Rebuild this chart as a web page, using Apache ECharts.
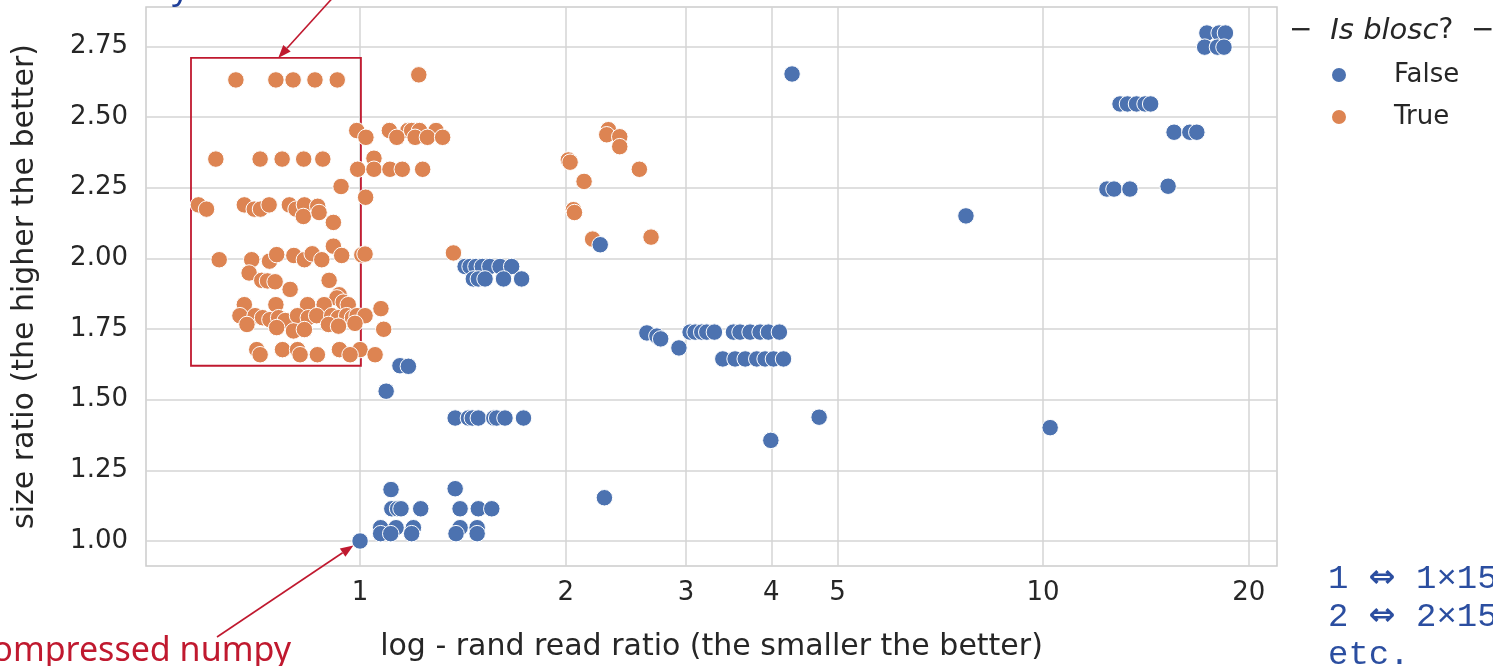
<!DOCTYPE html>
<html><head><meta charset="utf-8">
<script src="https://cdn.jsdelivr.net/npm/echarts@6/dist/echarts.min.js"></script>
<style>html,body{margin:0;padding:0;background:#fff}#c{width:1493px;height:666px}</style>
</head><body><div id="c"></div>
<script>
// ---------- data ----------
const seriesNames = ['False', 'True'];
const xTicks = [1, 2, 3, 4, 5, 10, 20];
const yTicks = [1.00, 1.25, 1.50, 1.75, 2.00, 2.25, 2.50, 2.75];
const xRange = [0.486, 22.0];
const yRange = [0.9116, 2.889];
const xTitle = 'log - rand read ratio (the smaller the better)';
const yTitle = 'size ratio (the higher the better)';
const legendTitle = 'Is blosc';

// blosc = False  [read ratio, size ratio]
const falsePoints = [
 [1.0,1.0],
 [1.144,1.620],[1.177,1.618],[1.092,1.530],
 [1.425,1.971],[1.449,1.971],[1.478,1.971],[1.51,1.971],[1.549,1.971],[1.603,1.971],[1.667,1.971],
 [1.465,1.927],[1.490,1.927],[1.524,1.927],[1.622,1.927],[1.724,1.927],
 [1.378,1.435],[1.441,1.435],[1.46,1.435],[1.490,1.435],[1.57,1.435],[1.585,1.435],[1.630,1.435],[1.735,1.435],
 [1.110,1.182],[1.378,1.185],
 [1.113,1.114],[1.135,1.114],[1.148,1.114],[1.227,1.114],[1.401,1.114],[1.490,1.114],[1.559,1.114],
 [1.072,1.047],[1.129,1.047],[1.197,1.047],[1.401,1.047],[1.484,1.047],
 [1.072,1.026],[1.109,1.026],[1.190,1.026],[1.382,1.026],[1.484,1.026],
 [2.279,1.153],[2.247,2.048],
 [2.63,1.736],[2.72,1.725],[2.755,1.715],[2.93,1.683],
 [3.042,1.739],[3.094,1.739],[3.164,1.739],[3.218,1.739],[3.302,1.739],[3.521,1.739],[3.6,1.739],[3.724,1.739],[3.852,1.739],[3.962,1.739],[4.111,1.739],
 [3.397,1.644],[3.54,1.644],[3.663,1.644],[3.809,1.644],[3.917,1.644],[4.029,1.644],[4.168,1.644],
 [4.70,1.438],[3.994,1.356],[4.29,2.652],[7.71,2.150],[10.24,1.401],
 [17.37,2.797],[18.1,2.797],[18.49,2.797],[17.24,2.747],[18.0,2.747],[18.4,2.747],
 [12.96,2.546],[13.29,2.546],[13.7,2.546],[14.10,2.546],[14.37,2.546],
 [15.55,2.446],[16.4,2.446],[16.79,2.446],
 [12.4,2.245],[12.70,2.245],[13.40,2.245],[15.24,2.255]
];

// blosc = True
const truePoints = [
 [0.658,2.631],[0.753,2.631],[0.798,2.631],[0.859,2.631],[0.926,2.631],[1.219,2.649],
 [0.989,2.452],[1.104,2.452],[1.175,2.452],[1.19,2.452],[1.222,2.452],[1.292,2.452],
 [1.020,2.428],[1.132,2.428],[1.204,2.428],[1.255,2.428],[1.321,2.428],
 [0.615,2.351],[0.714,2.351],[0.769,2.351],[0.827,2.351],[0.882,2.351],[1.048,2.354],
 [0.992,2.315],[1.048,2.315],[1.106,2.315],[1.153,2.315],[1.235,2.315],
 [0.938,2.254],[1.019,2.216],
 [0.580,2.189],[0.596,2.174],[0.677,2.189],[0.700,2.174],[0.715,2.174],[0.736,2.189],[0.788,2.189],[0.806,2.174],[0.829,2.189],[0.826,2.148],[0.867,2.184],[0.871,2.162],[0.914,2.127],
 [0.622,1.995],[0.694,1.995],[0.737,1.990],[0.755,2.013],[0.800,2.010],[0.829,1.995],[0.851,2.016],[0.879,1.995],[0.914,2.043],[0.940,2.010],[1.006,2.012],[1.017,2.015],[1.370,2.019],
 [0.688,1.948],[0.718,1.922],[0.732,1.920],[0.751,1.917],[0.790,1.890],[0.901,1.922],[0.932,1.871],[0.925,1.860],
 [0.677,1.836],[0.753,1.836],[0.838,1.836],[0.886,1.836],[0.945,1.845],[0.961,1.836],
 [0.667,1.797],[0.702,1.797],[0.720,1.790],[0.738,1.783],[0.760,1.790],[0.777,1.780],[0.810,1.797],[0.840,1.790],[0.864,1.797],[0.909,1.797],[0.930,1.790],[0.956,1.797],[0.975,1.790],[0.990,1.797],[1.017,1.797],[1.073,1.822],
 [0.683,1.766],[0.755,1.755],[0.799,1.743],[0.829,1.748],[0.899,1.766],[0.930,1.760],[0.983,1.770],[1.083,1.749],
 [0.706,1.677],[0.770,1.677],[0.810,1.677],[0.933,1.677],[1.000,1.677],
 [0.714,1.659],[0.817,1.659],[0.866,1.659],[0.967,1.659],[1.052,1.659],
 [2.018,2.348],[2.03,2.340],[2.128,2.272],[2.31,2.455],[2.297,2.437],[2.40,2.430],[2.40,2.395],[2.564,2.315],[2.053,2.172],[2.06,2.162],[2.19,2.068],[2.667,2.075]
];

// annotation anchors (data coords)
const boxCorners = [[0.5656, 2.709], [1.003, 1.620]];
const boxArrowTarget = [0.759, 2.709];
const numpyPoint = [1.0, 1.0];
const noteRows = [['1', '1\u00D715'], ['2', '2\u00D715']];
const noteTail = 'etc.';

// ---------- chart ----------
const L = v => Math.log10(v);
const toXY = pts => pts.map(p => [L(p[0]), p[1]]);
const RED = '#c0192f';
const TXT = '#262626';
const FONT = 'DejaVu Sans';
const MONO = '"Liberation Mono", "DejaVu Sans Mono", monospace';

const chart = echarts.init(document.getElementById('c'), null, {renderer: 'canvas'});
const option = {
  animation: false,
  backgroundColor: '#fff',
  grid: {left: 146, right: 216, top: 7, bottom: 100, show: true, borderColor: '#cccccc', borderWidth: 1.5,
         containLabel: false, outerBoundsMode: 'none'},
  xAxis: {
    type: 'value', min: L(xRange[0]), max: L(xRange[1]),
    name: xTitle, nameLocation: 'middle', nameGap: 66,
    nameTextStyle: {fontFamily: FONT, fontSize: 30, color: TXT},
    axisLine: {show: false}, axisTick: {show: false, customValues: xTicks.map(L)},
    axisLabel: {customValues: xTicks.map(L), formatter: v => String(Math.round(Math.pow(10, v))), fontFamily: FONT, fontSize: 26, color: TXT, margin: 14},
    splitLine: {show: true, lineStyle: {color: '#d5d5d5', width: 1.5}}
  },
  yAxis: {
    type: 'value', min: yRange[0], max: yRange[1],
    name: yTitle, nameLocation: 'middle', nameGap: 106, nameRotate: 90,
    nameTextStyle: {fontFamily: FONT, fontSize: 30, color: TXT},
    axisLine: {show: false}, axisTick: {show: false, customValues: yTicks},
    axisLabel: {customValues: yTicks, formatter: v => v.toFixed(2), fontFamily: FONT, fontSize: 26, color: TXT, margin: 18},
    splitLine: {show: true, lineStyle: {color: '#d5d5d5', width: 1.5}}
  },
  legend: {
    data: seriesNames, orient: 'vertical', left: 1330, top: 62, itemGap: 16,
    itemWidth: 16, itemHeight: 16, icon: 'circle', padding: 0,
    textStyle: {fontFamily: FONT, fontSize: 26, color: TXT, padding: [0, 0, 0, 42]}
  },
  series: [
    {name: 'True', type: 'scatter', data: toXY(truePoints), symbolSize: 16.5, z: 2,
     itemStyle: {color: '#dd8452', borderColor: '#fff', borderWidth: 1, opacity: 1},
     markArea: {silent: true, itemStyle: {color: 'rgba(0,0,0,0)', borderColor: RED, borderWidth: 1.8},
       label: {show: false},
       data: [[{coord: [L(boxCorners[0][0]), boxCorners[0][1]]}, {coord: [L(boxCorners[1][0]), boxCorners[1][1]]}]]}},
    {name: 'False', type: 'scatter', data: toXY(falsePoints), symbolSize: 16.5, z: 3,
     itemStyle: {color: '#4c72b0', borderColor: '#fff', borderWidth: 1, opacity: 1}}
  ]
};
chart.setOption(option);

function arrow(x1, y1, x2, y2) {
  const dx = x2 - x1, dy = y2 - y1, len = Math.hypot(dx, dy);
  const ux = dx / len, uy = dy / len, h = 13, w = 5;
  const bx = x2 - ux * h, by = y2 - uy * h;
  return [
    {type: 'line', shape: {x1, y1, x2: bx, y2: by}, style: {stroke: RED, lineWidth: 1.6}, z: 100},
    {type: 'polygon', shape: {points: [[x2, y2], [bx - uy * w, by + ux * w], [bx + uy * w, by - ux * w]]}, style: {fill: RED}, z: 100}
  ];
}
const p1 = chart.convertToPixel({gridIndex: 0}, [L(boxArrowTarget[0]), boxArrowTarget[1]]);
const pn = chart.convertToPixel({gridIndex: 0}, [L(numpyPoint[0]), numpyPoint[1]]);
const s2 = [217, 637];
const d2 = Math.hypot(pn[0] - s2[0], pn[1] - s2[1]);
const tip2 = [pn[0] - (pn[0] - s2[0]) / d2 * 8, pn[1] - (pn[1] - s2[1]) / d2 * 8];

const noteRich = {
  m: {fontFamily: MONO, fontSize: 34, fill: '#2b4ea0', color: '#2b4ea0', lineHeight: 38},
  a: {fontFamily: 'DejaVu Sans', fontSize: 32, fontWeight: 'bold', fill: '#2b4ea0', color: '#2b4ea0', lineHeight: 38}
};
const noteText = noteRows.map(r => '{m|' + r[0] + ' }{a|\u21D4}{m| ' + r[1] + '}').join('\n') + '\n{m|' + noteTail + '}';

const graphics = [].concat(
  arrow(p1[0] + 58, p1[1] - 64, p1[0], p1[1]),
  arrow(s2[0], s2[1], tip2[0], tip2[1]),
  [
    {type: 'text', x: 291, y: 651, style: {text: 'compressed numpy', fill: RED, font: '34px "Noto Sans"', textAlign: 'right', textVerticalAlign: 'middle'}, z: 100},
    {type: 'text', x: 172, y: 6, style: {text: 'y', fill: '#1f3f99', font: '34px "Noto Sans"', textAlign: 'left', textVerticalAlign: 'bottom'}, z: 100},
    {type: 'text', x: 1289, y: 31, style: {
      text: '{n|\u2212  }{i|' + legendTitle + '}{n|?  \u2212}',
      textVerticalAlign: 'middle',
      rich: {n: {fontFamily: FONT, fontSize: 28, fill: TXT, color: TXT}, i: {fontFamily: FONT, fontSize: 29, fontStyle: 'italic', fill: TXT, color: TXT}}
    }, z: 100},
    {type: 'text', x: 1328, y: 560, style: {text: noteText, rich: noteRich, textVerticalAlign: 'top'}, z: 100}
  ]
);
chart.setOption({graphic: graphics});
</script></body></html>
